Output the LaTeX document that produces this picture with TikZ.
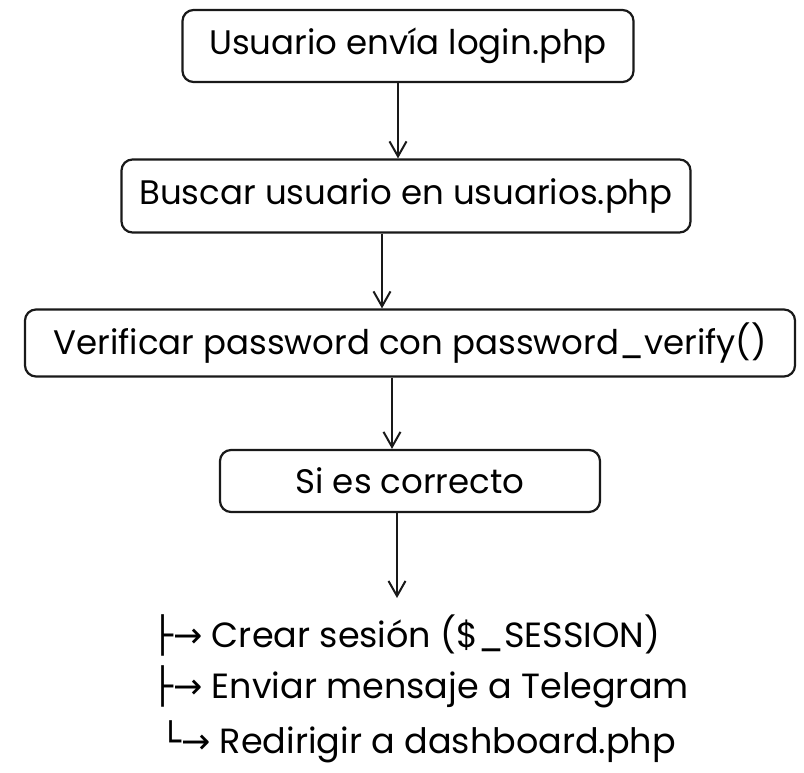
\documentclass[tikz,border=0pt]{standalone}
\usepackage{fontspec}
\setmainfont{Poppins}
\newfontfamily\symfont{DejaVu Sans}
\usetikzlibrary{arrows.meta}
\tikzset{
  box/.style={draw=black!90, line width=2.2pt, rounded corners=11pt, fill=white, inner sep=0pt, font=\fontsize{34}{40}\selectfont},
  flow/.style={draw=black!90, line width=2pt, -{Straight Barb[length=15pt,width=17pt,line width=2pt]}},
  item/.style={anchor=west, inner sep=0pt, font=\fontsize{35}{40}\selectfont}
}
\begin{document}
\begin{tikzpicture}[x=1pt,y=-1pt]
\useasboundingbox (0,0) rectangle (804,773);
\fill[white] (0,0) rectangle (804,773);
\node[box, minimum width=451pt, minimum height=72pt] (b1) at (408,46) {Usuario envía login.php};
\node[box, minimum width=569pt, minimum height=73pt] (b2) at (406,196) {Buscar usuario en usuarios.php};
\node[box, minimum width=770pt, minimum height=67pt] (b3) at (410,343) {Verificar password con password\_verify()};
\node[box, minimum width=380pt, minimum height=62pt] (b4) at (410,481) {Si es correcto};
\coordinate (e) at (397,598);
\draw[flow] (b1.south -| 398,0) -- (b2.north -| 398,0);
\draw[flow] (b2.south -| 382,0) -- (b3.north -| 382,0);
\draw[flow] (b3.south -| 392,0) -- (b4.north -| 392,0);
\draw[flow] (b4.south -| 397,0) -- (e);
\node[item] (t1) at (152,635) {{\symfont ├→} Crear sesión (\$\_SESSION)};
\node[item] (t2) at (152,687) {{\symfont ├→} Enviar mensaje a Telegram};
\node[item] (t3) at (160,742) {{\symfont └→} Redirigir a dashboard.php};
\end{tikzpicture}
\end{document}
